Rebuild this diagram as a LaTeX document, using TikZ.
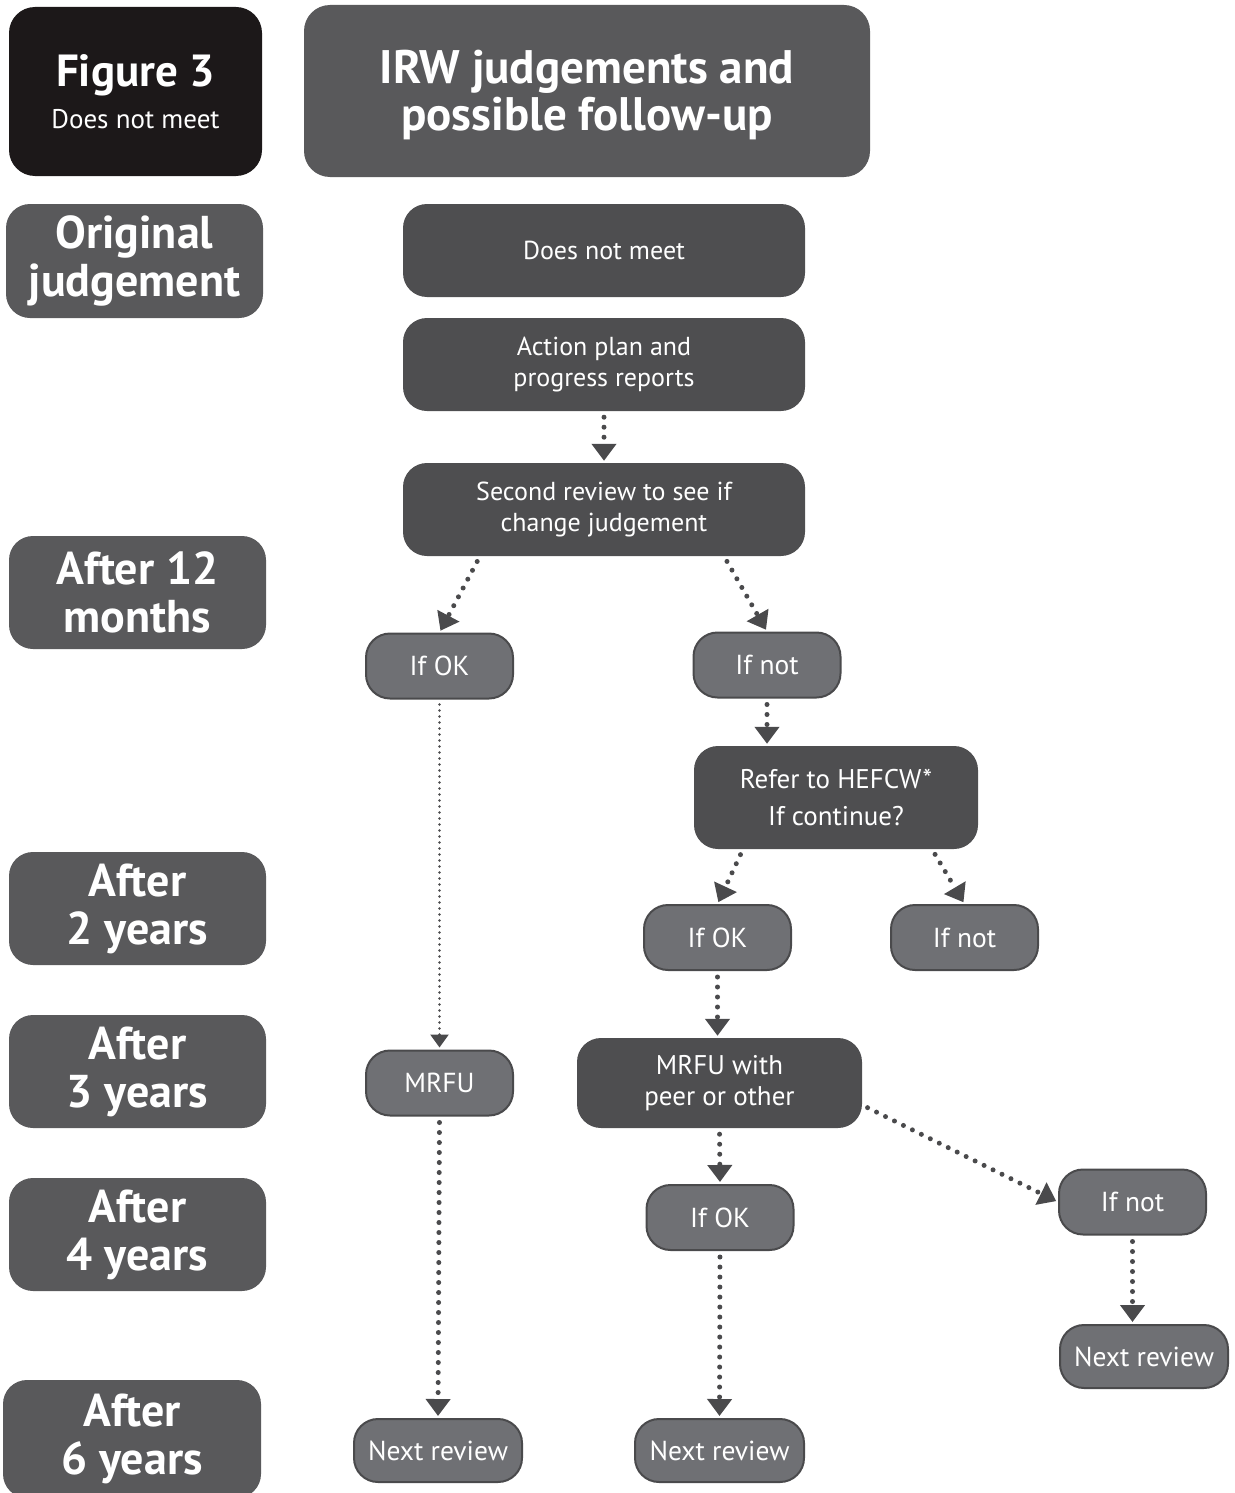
\documentclass[tikz,border=0pt]{standalone}
\usepackage{fontspec}
\setmainfont{PT Sans}
\usepackage{tikz}
\usetikzlibrary{arrows.meta, positioning, calc}

\definecolor{headblack}{HTML}{1C1819}
\definecolor{sidegrey}{HTML}{59595B}
\definecolor{boxdark}{HTML}{4E4E50}
\definecolor{boxlight}{HTML}{6F7074}
\definecolor{boxedge}{HTML}{4A4A4C}
\definecolor{dotgrey}{HTML}{4A4A4C}

\tikzset{
  headbox/.style={fill=headblack, rounded corners=26pt, text=white, align=center, inner sep=0pt},
  sidebox/.style={fill=sidegrey, rounded corners=24pt, text=white, align=center, inner sep=0pt,
    minimum width=257pt, minimum height=113pt, font=\bfseries\fontsize{46}{48}\selectfont},
  darkbox/.style={fill=boxdark, rounded corners=24pt, text=white, align=center, inner sep=0pt,
    font=\fontsize{26}{31}\selectfont},
  pill/.style={fill=boxlight, draw=boxedge, line width=2pt, rounded corners=24pt, text=white,
    inner sep=0pt, minimum width=147pt, minimum height=65pt, font=\fontsize{27.5}{30}\selectfont},
  flow/.style={dotgrey, line width=5pt, line cap=round, dash pattern=on 0pt off 10pt,
    -{Triangle[width=24pt, length=17pt]}, shorten <=6pt, shorten >=2pt},
  thinflow/.style={dotgrey, line width=2.6pt, line cap=round, dash pattern=on 0pt off 6pt,
    -{Triangle[width=18pt, length=13pt]}, shorten <=5pt, shorten >=2pt}
}

\begin{document}
\begin{tikzpicture}[x=1pt, y=-1pt]
    \useasboundingbox (0,0) rectangle (1234,1493);

    % Kopfzeile
    \node[headbox, minimum width=253pt, minimum height=169pt] (fig) at (135.5,91.5)
        {{\bfseries\fontsize{45}{48}\selectfont Figure 3}\\[12pt]{\fontsize{27}{30}\selectfont Does not meet}};
    \node[headbox, fill=sidegrey, minimum width=566pt, minimum height=172pt,
        font=\bfseries\fontsize{47}{47}\selectfont] (title) at (587,91)
        {\rule{0pt}{42pt}IRW judgements and\\possible follow-up};

    % Zeitachse links
    \node[sidebox, minimum width=257pt, minimum height=114pt] (orig) at (134.5,261) {Original\\judgement};
    \node[sidebox] (m12) at (137.5,592.5) {After 12\\months};
    \node[sidebox] (y2) at (137.5,908.5) {After\\2 years};
    \node[sidebox] (y3) at (137.5,1071.5) {After\\3 years};
    \node[sidebox] (y4) at (137.5,1234.5) {After\\4 years};
    \node[sidebox, minimum width=258pt, minimum height=118pt] (y6) at (132,1439) {After\\6 years};

    % Hauptkaesten
    \node[darkbox, minimum width=402pt, minimum height=93pt] (dnm) at (604,250.5) {Does not meet};
    \node[darkbox, minimum width=402pt, minimum height=93pt] (plan) at (604,364.5) {Action plan and\\progress reports};
    \node[darkbox, minimum width=402pt, minimum height=93pt] (review) at (604,509.5) {Second review to see if\\change judgement};
    \node[darkbox, minimum width=284pt, minimum height=103pt, font=\fontsize{27}{37}\selectfont] (refer) at (836,797.5)
        {Refer to HEFCW*\\If continue?};
    \node[darkbox, minimum width=285pt, minimum height=90pt, font=\fontsize{27}{31}\selectfont] (peer) at (719.5,1083)
        {MRFU with\\peer or other};

    % Entscheidungen
    \node[pill] (okA) at (439.5,666) {If OK};
    \node[pill] (notA) at (767,665) {If not};
    \node[pill] (okB) at (717.5,937.5) {If OK};
    \node[pill] (notB) at (964.5,937.5) {If not};
    \node[pill] (mrfu) at (439.5,1083) {MRFU};
    \node[pill] (okC) at (720,1217.5) {If OK};
    \node[pill] (notC) at (1132.5,1202) {If not};
    \node[pill, minimum width=168pt, minimum height=63pt] (nextA) at (438,1450.5) {Next review};
    \node[pill, minimum width=169pt, minimum height=63pt] (nextB) at (719.5,1450.5) {Next review};
    \node[pill, minimum width=168pt, minimum height=63pt] (nextC) at (1144,1356.5) {Next review};

    % Pfeile
    \draw[flow] (plan.south) -- (review.north);
    \draw[flow] ([xshift=-124pt]review.south) -- (okA.north);
    \draw[flow] ([xshift=120pt]review.south) -- (notA.north);
    \draw[flow] (notA.south) -- (notA.south |- refer.north);
    \draw[flow] ([xshift=-93pt]refer.south) -- (okB.north);
    \draw[flow] ([xshift=96pt]refer.south) -- (notB.north);
    \draw[flow] (okB.south) -- (okB.south |- peer.north);
    \draw[flow] (peer.south) -- (okC.north);
    \draw[flow] ([yshift=-22pt]peer.east) -- (notC.west);
    \draw[flow] (notC.south) -- (notC.south |- nextC.north);
    \draw[flow] (mrfu.south) -- (nextA.north);
    \draw[flow] (okC.south) -- (nextB.north);
    \draw[thinflow] (okA.south) -- (mrfu.north);
\end{tikzpicture}
\end{document}
